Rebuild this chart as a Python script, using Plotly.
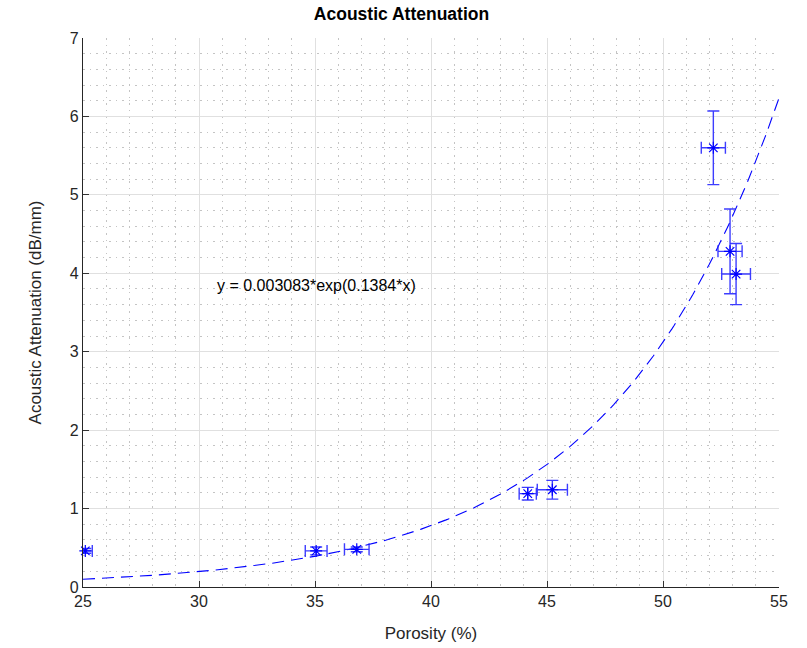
import numpy as np
import plotly.graph_objects as go

porosity = [25.1, 35.05, 36.8, 44.17, 45.23, 52.17, 52.89, 53.15]
attenuation = [0.46, 0.46, 0.48, 1.19, 1.24, 5.60, 4.28, 3.99]
porosity_err = [0.3, 0.47, 0.53, 0.37, 0.65, 0.52, 0.52, 0.62]
attenuation_err = [0.03, 0.05, 0.03, 0.08, 0.12, 0.47, 0.54, 0.39]

fit_a = 0.003083
fit_b = 0.1384
fit_x = np.linspace(25, 55, 300)
fit_y = fit_a * np.exp(fit_b * fit_x)

blue = "rgb(0,0,255)"
font_family = "Liberation Sans, Arial"

fig = go.Figure()
fig.add_trace(go.Scatter(
    x=fit_x, y=fit_y, mode="lines",
    line=dict(color=blue, width=1.1, dash="12px,7px"),
    showlegend=False, hoverinfo="skip",
))
fig.add_trace(go.Scatter(
    x=porosity, y=attenuation, mode="markers",
    marker=dict(symbol="asterisk-open", size=10, color=blue, line=dict(color=blue, width=1.2)),
    error_x=dict(type="data", array=porosity_err, visible=True, color="rgba(40,40,255,0.9)", thickness=1.4, width=6),
    error_y=dict(type="data", array=attenuation_err, visible=True, color="rgba(40,40,255,0.9)", thickness=1.4, width=6),
    showlegend=False, cliponaxis=False,
))

fig.add_annotation(
    x=30.69, y=3.85, xref="x", yref="y", text="y = 0.003083*exp(0.1384*x)",
    showarrow=False, xanchor="left", yanchor="middle",
    font=dict(family=font_family, size=16, color="black"),
)

axis_common = dict(
    showgrid=True, gridcolor="#e0e0e0", gridwidth=1,
    ticks="inside", ticklen=6, tickcolor="#333333",
    showline=True, linecolor="#262626", linewidth=1.2,
    zeroline=False, mirror=False, automargin=False,
    tickfont=dict(family=font_family, size=16, color="#262626"),
    title_font=dict(family=font_family, size=17, color="#262626"),
)

fig.update_xaxes(
    range=[25, 55], dtick=5, tick0=25,
    title_text="Porosity (%)", title_standoff=17,
    minor=dict(dtick=1, showgrid=True, gridcolor="#c4c4c4", griddash="1.5px,5px", gridwidth=1),
    **axis_common,
)
fig.update_yaxes(
    range=[0, 7], dtick=1, tick0=0,
    title_text="Acoustic Attenuation (dB/mm)", title_standoff=23,
    minor=dict(dtick=0.2, showgrid=True, gridcolor="#c4c4c4", griddash="1.5px,5px", gridwidth=1),
    **axis_common,
)

fig.update_layout(
    width=807, height=648,
    margin=dict(l=83, r=28, t=38, b=61, autoexpand=False),
    paper_bgcolor="white", plot_bgcolor="white",
    title=dict(text="<b>Acoustic Attenuation</b>", x=(401.5 / 807), xanchor="center", y=1 - 14 / 648, yanchor="middle",
               font=dict(family=font_family, size=17.5, color="black")),
)

fig.write_html("out.html")
